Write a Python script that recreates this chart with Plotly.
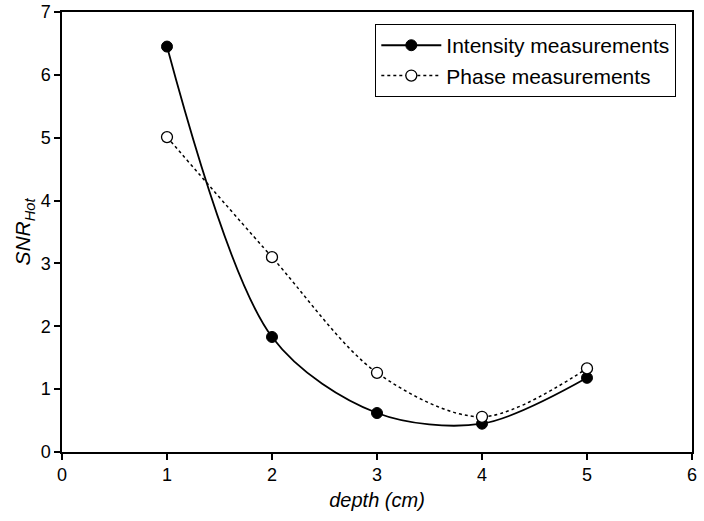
import plotly.graph_objects as go

depth = [1, 2, 3, 4, 5]
intensity = [6.45, 1.83, 0.62, 0.45, 1.18]
phase = [5.01, 3.10, 1.26, 0.56, 1.33]

x_ticks = [0, 1, 2, 3, 4, 5, 6]
y_ticks = [0, 1, 2, 3, 4, 5, 6, 7]

FONT = "Liberation Sans, Arial, Helvetica, sans-serif"

fig = go.Figure()
fig.add_trace(go.Scatter(
    x=depth, y=intensity, name="Intensity measurements",
    mode="lines+markers",
    line=dict(color="black", width=1.8, shape="spline", smoothing=0.9),
    marker=dict(symbol="circle", size=11, color="black", line=dict(color="black", width=1)),
))
fig.add_trace(go.Scatter(
    x=depth, y=phase, name="Phase measurements",
    mode="lines+markers",
    line=dict(color="black", width=1.5, dash="dot", shape="spline", smoothing=0.9),
    marker=dict(symbol="circle", size=11, color="white", line=dict(color="black", width=1.3)),
))

axis_common = dict(
    showgrid=False, zeroline=False, showline=True, linecolor="black", linewidth=1.5,
    mirror=True, ticks="outside", ticklen=6, tickwidth=1.5, tickcolor="black",
    tickfont=dict(family=FONT, size=18, color="black"), automargin=False,
)

fig.update_xaxes(
    range=[0, 6], tickvals=x_ticks, ticktext=[str(v) for v in x_ticks],
    title=dict(text="<i>depth (cm)</i>", font=dict(family=FONT, size=20, color="black"), standoff=9),
    **axis_common,
)
fig.update_yaxes(
    range=[0, 7], tickvals=y_ticks, ticktext=[str(v) for v in y_ticks],
    title=dict(text="<i>SNR<sub>Hot</sub></i>", font=dict(family=FONT, size=21, color="black"), standoff=4),
    **axis_common,
)

fig.update_layout(
    width=704, height=521,
    margin=dict(l=62, r=12, t=12, b=69, autoexpand=False),
    paper_bgcolor="white", plot_bgcolor="white",
    font=dict(family=FONT, color="black"),
    legend=dict(
        x=0.497, y=0.973, xanchor="left", yanchor="top",
        bgcolor="white", bordercolor="black", borderwidth=1.2,
        font=dict(family=FONT, size=21, color="black"),
        itemwidth=60, tracegroupgap=0,
    ),
    showlegend=True,
)

fig.write_html(
    "out.html",
    config={"displayModeBar": False},
    post_script="document.body.style.margin='0';document.body.style.padding='0';",
)
